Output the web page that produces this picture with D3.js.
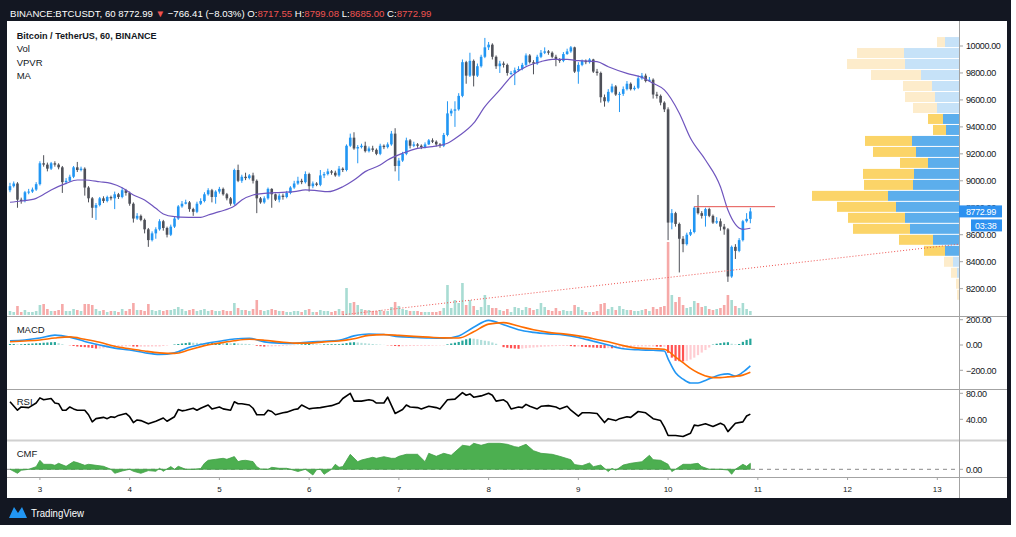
<!DOCTYPE html>
<html>
<head>
<meta charset="utf-8">
<script src="https://cdn.jsdelivr.net/npm/d3@7"></script>
<style>
  body { margin: 0; background: #fff; }
  svg { display: block; }
  text { font-family: "Liberation Sans", Arial, sans-serif; }
</style>
</head>
<body>
<div id="chart"></div>
<script>
// ---- data (hourly candles, 2nd 16:00 -> 10th 22:00) ----
const firstOpen = 8930
const closes = [
  8960,8980,8860,8850,8915,8920,8935,8975,9130,9120,
  9090,9130,9120,9100,8990,9000,9030,9100,9080,9090,
  8950,8870,8800,8820,8870,8850,8880,8870,8900,8880,
  8930,8910,8830,8720,8740,8710,8640,8560,8610,8640,
  8700,8650,8600,8660,8720,8810,8830,8840,8790,8770,
  8830,8850,8900,8930,8880,8920,8940,8900,8870,8830,
  9080,9000,9030,9020,9040,9000,8870,8840,8870,8940,
  8900,8860,8890,8880,8910,8950,8980,9000,8990,9050,
  8960,8980,8970,9040,9050,9070,9060,9040,9090,9080,
  9260,9320,9240,9250,9260,9220,9240,9230,9200,9260,
  9250,9270,9350,9110,9150,9200,9300,9260,9270,9260,
  9250,9270,9300,9290,9270,9260,9340,9500,9520,9530,
  9630,9880,9780,9890,9780,9850,9920,9990,10010,9920,
  9850,9870,9860,9800,9800,9820,9830,9860,9930,9880,
  9870,9920,9950,9960,9950,9920,9900,9890,9940,9960,
  9990,9810,9860,9890,9880,9900,9810,9800,9620,9590,
  9660,9700,9640,9645,9680,9720,9680,9690,9760,9780,
  9740,9750,9640,9630,9580,9530,8690,8760,8680,8570,
  8530,8600,8620,8800,8760,8740,8790,8740,8690,8700,
  8660,8640,8290,8510,8480,8560,8700,8717.55,8772.99
]
const highs = [
  8985,8995,8990,8875,8925,8940,8950,8990,9145,9190,
  9135,9140,9145,9130,9110,9020,9045,9110,9140,9105,
  9100,8960,8880,8835,8880,8885,8890,8890,8920,8910,
  8950,8940,8920,8840,8760,8750,8720,8650,8625,8655,
  8715,8710,8660,8675,8735,8820,8850,8860,8850,8800,
  8845,8870,8915,8945,8940,8930,8955,8950,8910,8880,
  9090,9120,9045,9060,9050,9060,9010,8880,8885,8950,
  8945,8905,8905,8905,8925,8960,9000,9030,9015,9070,
  9060,8995,8990,9080,9065,9090,9080,9075,9110,9100,
  9270,9350,9360,9265,9275,9290,9255,9260,9240,9275,
  9270,9285,9370,9390,9170,9215,9320,9310,9290,9280,
  9270,9285,9310,9315,9300,9280,9355,9590,9535,9590,
  9650,9900,9890,9950,9900,9870,9935,10060,10030,10020,
  9930,9890,9885,9870,9815,9840,9850,9875,9945,9940,
  9895,9935,9970,9990,9970,9960,9935,9910,9955,9980,
  10000,9995,9880,9900,9900,9910,9905,9830,9810,9640,
  9680,9720,9710,9660,9700,9740,9730,9705,9780,9800,
  9795,9770,9760,9660,9640,9590,9545,8790,8770,8690,
  8590,8615,8640,8810,8895,8775,8800,8800,8750,8730,
  8720,8680,8650,8520,8530,8575,8710,8760,8799.08
]
const lows = [
  8915,8950,8800,8830,8840,8900,8910,8925,8965,9105,
  9070,9080,9105,9085,8910,8975,8990,9020,9065,9070,
  8890,8840,8725,8710,8810,8835,8840,8855,8790,8865,
  8870,8890,8815,8690,8710,8700,8610,8510,8550,8570,
  8630,8630,8580,8590,8650,8710,8800,8825,8770,8740,
  8760,8820,8840,8890,8840,8830,8905,8890,8855,8815,
  8820,8990,8985,9005,9010,8980,8760,8830,8830,8860,
  8800,8850,8840,8860,8870,8900,8940,8970,8975,8980,
  8920,8945,8960,8960,9020,9040,9045,9030,9030,9065,
  9070,9250,9230,9130,9240,9210,9210,9215,9190,9190,
  9235,9240,9260,9070,9000,9140,9190,9240,9250,9245,
  9235,9240,9265,9280,9255,9245,9250,9330,9480,9400,
  9520,9620,9720,9770,9700,9770,9840,9910,9970,9900,
  9830,9800,9840,9780,9785,9710,9810,9820,9850,9870,
  9790,9860,9910,9940,9935,9910,9850,9875,9880,9935,
  9950,9800,9720,9850,9865,9870,9800,9780,9580,9550,
  9580,9650,9630,9510,9630,9670,9670,9670,9680,9750,
  9730,9735,9610,9610,9560,9510,8560,8640,8660,8320,
  8470,8520,8590,8610,8750,8720,8660,8730,8680,8680,
  8630,8600,8250,8280,8420,8470,8550,8690,8685
]
const volumes = [
  400,300,900,300,500,300,300,400,1000,1100,
  600,400,400,500,1100,400,400,600,500,400,
  1100,1100,1000,600,400,500,300,400,400,300,
  600,400,600,1200,500,500,400,1100,500,400,
  500,400,500,500,600,800,600,400,500,600,
  400,500,600,400,500,400,400,500,400,400,
  1200,700,500,500,400,600,1500,500,400,500,
  600,500,400,400,300,300,400,400,300,500,
  600,300,300,500,400,400,300,400,600,400,
  2700,1200,1300,1000,600,500,500,400,400,500,
  400,400,800,1300,900,600,500,400,400,400,
  300,300,300,300,300,400,700,3000,700,1500,
  1200,3200,1000,1500,900,500,800,2000,1000,700,
  700,500,400,600,300,800,700,500,800,700,
  500,600,1200,800,500,400,700,400,500,400,
  400,1000,800,500,300,300,300,400,1100,1200,
  600,800,500,900,600,500,500,400,400,500,
  600,400,800,600,800,900,7300,2000,1300,1800,
  1000,700,800,1400,1200,800,900,600,500,600,
  700,1000,2000,1500,900,700,1200,600,400
]

// moving average, sampled [candle, price]
const maPoints = [
  [0,8841],[3,8850],[7,8870],[11,8932],[15,8981],[18,9006],[20,9006],[24,8993],[27,8981],
  [30,8949],[33,8895],[36,8858],[39,8796],[41,8754],[44,8734],[48,8729],[51,8728],[53,8746],
  [56,8771],[60,8813],[62,8858],[65,8895],[68,8907],[71,8912],[76,8919],[79,8932],[82,8927],
  [85,8919],[89,8956],[92,9006],[95,9068],[99,9117],[101,9154],[105,9204],[109,9241],[113,9253],
  [117,9278],[120,9332],[124,9427],[127,9550],[131,9674],[134,9772],[138,9846],[142,9884],
  [145,9901],[149,9901],[152,9891],[157,9884],[160,9846],[165,9797],[169,9768],[172,9723],
  [175,9674],[179,9501],[182,9315],[186,9154],[190,8956],[192,8783],[196,8640],[198,8648]
]

// volume profile rows, top (10070) to bottom, step 81.5
const vpvrTop = 10070
const vpvrStep = 81.5
const vpvrUp =   [14,55,54,38,27,24,22,16,13,47,43,31,45,46,71,63,54,49,26,14,6,2,0,0]
const vpvrDown = [8,47,58,50,29,30,24,15,13,47,43,28,51,49,76,59,57,57,34,21,9,6,3,2]
const vpvrValueArea = [7, 19]

// MACD [candle, macd, signal]
const macdRows = [
  [0,34,26],[4,40,32],[8,55,40],[12,78,55],[16,62,64],[20,28,45],[24,0,22],[28,-25,-10],
  [32,-40,-30],[36,-61,-48],[40,-74,-62],[44,-62,-66],[48,-18,-38],[52,10,-5],[56,30,15],
  [60,48,34],[64,53,45],[68,25,38],[72,15,25],[76,13,15],[80,24,15],[84,30,25],[88,38,32],
  [92,72,50],[96,87,76],[100,83,82],[104,66,76],[108,60,68],[112,55,62],[116,53,56],
  [120,72,55],[124,140,105],[128,195,165],[132,160,177],[136,120,150],[140,100,120],
  [144,88,100],[148,80,88],[152,60,72],[156,30,50],[160,0,25],[164,-30,-5],[168,-38,-25],
  [172,-42,-30],[175,-47,-33],[176,-110,-48],[178,-220,-95],[180,-270,-140],[182,-300,-185],
  [184,-300,-220],[186,-280,-245],[188,-255,-258],[190,-235,-258],[192,-228,-252],
  [194,-245,-248],[196,-215,-238],[198,-165,-215]
]
const macdHist = [
  8,8,6,6,8,10,12,14,15,18,
  20,22,23,15,6,0,-2,-8,-12,-15,
  -17,-20,-24,-28,-28,-26,-22,-18,-15,-13,
  -12,-11,-10,-12,-13,-13,-13,-13,-12,-12,
  -12,-8,-4,0,4,8,12,16,20,18,
  17,16,15,15,15,15,15,14,14,13,
  14,12,10,9,8,2,-6,-10,-13,-12,
  -11,-10,-10,-7,-5,-3,-2,2,5,7,
  9,7,6,5,5,5,6,6,6,10,
  15,20,22,20,17,14,11,8,5,3,
  1,-2,-4,-8,-10,-10,-9,-8,-8,-7,
  -7,-7,-7,-5,-4,-3,-3,5,12,18,
  24,35,45,52,50,46,40,34,30,20,
  10,0,-17,-22,-26,-28,-30,-28,-25,-22,
  -20,-18,-15,-13,-12,-10,-9,-8,-8,-8,
  -9,-12,-12,-14,-16,-18,-20,-22,-24,-25,
  -25,-26,-25,-25,-25,-20,-16,-13,-13,-12,
  -12,-12,-12,-13,-14,-14,-62,-100,-125,-128,
  -130,-125,-115,-100,-80,-60,-40,-20,3,10,
  15,20,22,10,5,8,25,40,50
]

// RSI [candle, value]
const rsiPoints = [
  [0,67],[2,54],[3,59],[5,58],[7,65],[8,73],[9,70],[11,72],[12,65],[13,64],[14,54],[15,54],
  [16,59],[17,56],[18,54],[20,54],[21,47],[22,36],[23,41],[25,43],[26,41],[27,44],[28,43],
  [29,46],[31,49],[32,44],[33,35],[34,39],[35,38],[37,33],[38,35],[39,37],[41,42],[42,37],
  [44,44],[45,55],[46,53],[47,54],[49,57],[50,54],[51,57],[53,62],[54,56],[56,59],[57,56],
  [59,54],[60,67],[61,64],[62,64],[64,62],[65,57],[66,47],[68,47],[69,54],[70,52],[71,47],
  [73,50],[74,51],[76,55],[77,56],[78,62],[80,56],[81,57],[83,58],[85,60],[86,61],[88,65],
  [89,72],[91,80],[92,68],[94,68],[96,70],[97,69],[98,65],[100,65],[101,74],[103,49],
  [105,55],[106,62],[107,59],[109,58],[110,56],[112,60],[114,58],[115,56],[117,70],[119,71],
  [121,81],[122,77],[123,79],[124,74],[126,76],[128,80],[129,77],[130,68],[132,70],[133,66],
  [134,56],[136,59],[137,58],[138,63],[139,60],[141,56],[142,60],[144,61],[146,59],[147,56],
  [149,60],[150,54],[152,45],[153,50],[155,50],[157,49],[159,35],[160,41],[162,38],[163,41],
  [165,44],[166,43],[168,52],[170,50],[172,41],[174,38],[175,28],[176,15],[178,15],[180,13.5],
  [182,18.5],[183,31],[184,30],[186,33],[188,29],[190,34],[191,31],[192,21],[194,34],
  [196,36],[197,45],[198,48]
]

// Chaikin money flow [candle, value]
const cmfPoints = [
  [0,0],[2,-0.04],[3,-0.01],[5,0],[7,0.026],[8,0.09],[9,0.05],[11,0.05],[12,0.04],[13,0.06],
  [15,0.03],[17,0.077],[18,0.067],[20,0.04],[21,0.05],[23,0.04],[25,0.03],[27,0],[28,-0.04],
  [30,-0.017],[32,0],[33,-0.02],[35,-0.04],[37,-0.013],[39,-0.02],[40,0.01],[41,-0.02],
  [43,0.027],[44,0],[45,0.03],[47,0],[49,0],[51,0.007],[52,0.06],[53,0.09],[55,0.10],
  [57,0.11],[58,0.10],[60,0.127],[61,0.077],[62,0.087],[63,0.09],[65,0.077],[66,0.026],
  [67,0.003],[69,0],[70,0.02],[72,0.01],[74,0.01],[75,0],[77,-0.022],[79,0],[81,-0.057],
  [82,-0.004],[83,0],[84,-0.05],[86,0],[87,0.05],[88,0.02],[89,0.027],[91,0.15],[93,0.076],
  [94,0.093],[97,0.12],[98,0.11],[100,0.126],[102,0.11],[103,0.11],[104,0.13],[106,0.15],
  [109,0.15],[111,0.076],[112,0.16],[114,0.13],[116,0.16],[118,0.14],[121,0.24],[123,0.23],
  [124,0.26],[126,0.24],[128,0.26],[131,0.26],[133,0.25],[135,0.226],[136,0.22],[138,0.25],
  [140,0.186],[142,0.16],[145,0.15],[147,0.13],[150,0.096],[151,0.047],[153,0.036],
  [155,0.063],[156,0.026],[158,0.043],[160,-0.023],[161,0.01],[162,-0.01],[164,0.043],
  [166,0.06],[169,0.076],[171,0.14],[172,0.096],[174,0.09],[176,0.05],[177,-0.023],[178,0],
  [180,0.05],[182,0.05],[184,0.06],[185,0.027],[187,0],[190,0],[192,-0.007],[193,-0.05],
  [194,0],[196,0.05],[197,0.03],[198,0.06]
]

// drawings on the chart
const trendLine = [[89, 8006], [253.8, 8530]]
const levelLine = { from: 183, to: 204.6, price: 8808 }

// axis labels
const priceTicks = [10000, 9800, 9600, 9400, 9200, 9000, 8800, 8600, 8400, 8200]
const macdTicks = [200, 0, -200]
const rsiTicks = [80, 40]
const dayTicks = [3, 4, 5, 6, 7, 8, 9, 10, 11, 12, 13]
const firstDayIndex = 8 // candle index of day 3, 00:00

// header quote line
const headerParts = [
  ['BINANCE:BTCUSDT, 60 ', '#fff'], ['8772.99 ', '#fff'], ['\u25BC ', '#ef5350'],
  ['\u2212766.41 (\u22128.03%) ', '#fff'],
  ['O:', '#fff'], ['8717.55 ', '#ef5350'], ['H:', '#fff'], ['8799.08 ', '#ef5350'],
  ['L:', '#fff'], ['8685.00 ', '#ef5350'], ['C:', '#fff'], ['8772.99', '#ef5350']
]

// ---- drawing ----
const W = 1016, H = 537
const plotL = 7, plotR = 959, axisR = 1007

const svg = d3.select('#chart').append('svg').attr('width', W).attr('height', H)

svg.append('rect').attr('x', 0).attr('y', 0).attr('width', 1011).attr('height', 525).attr('fill', '#131722')
svg.append('rect').attr('x', plotL).attr('y', 21).attr('width', axisR - plotL).attr('height', 477).attr('fill', '#fff')

const x = d3.scaleLinear().domain([-0.8, 253.8]).range([plotL, plotR])
const y = d3.scaleLinear().domain([10000, 8200]).range([46, 288.64])
const yVol = d3.scaleLinear().domain([0, 10000]).range([315, 215])
const yMacd = d3.scaleLinear().domain([200, -200]).range([319.7, 370.3])
const yRsi = d3.scaleLinear().domain([80, 40]).range([393.3, 419.3])
const yCmf = d3.scaleLinear().domain([0, 0.26]).range([469.3, 443.3])

const defs = svg.append('defs')
const clip = (id, y0, y1) => {
  defs.append('clipPath').attr('id', id).append('rect')
    .attr('x', plotL).attr('y', y0).attr('width', plotR - plotL).attr('height', y1 - y0)
  return svg.append('g').attr('clip-path', `url(#${id})`)
}

const candles = closes.map((c, i) => ({
  i, c, o: i ? closes[i - 1] : firstOpen, h: highs[i], l: lows[i], v: volumes[i]
}))

const UP = '#2196f3', DOWN = '#4e5058'

// main pane
const main = clip('clipMain', 21, 316)

main.selectAll('rect.vol').data(candles).enter().append('rect')
  .attr('class', 'vol')
  .attr('x', d => x(d.i) - 1.3)
  .attr('width', 2.6)
  .attr('y', d => yVol(d.v))
  .attr('height', d => yVol(0) - yVol(d.v))
  .attr('fill', d => d.c >= d.o ? '#a8dcd3' : '#f6a9a8')

main.selectAll('line.wick').data(candles).enter().append('line')
  .attr('class', 'wick')
  .attr('x1', d => x(d.i)).attr('x2', d => x(d.i))
  .attr('y1', d => y(d.h)).attr('y2', d => y(d.l))
  .attr('stroke', d => d.c >= d.o ? UP : DOWN)
  .attr('stroke-width', 1)

main.selectAll('rect.body').data(candles).enter().append('rect')
  .attr('class', 'body')
  .attr('x', d => x(d.i) - 1.3)
  .attr('width', 2.6)
  .attr('y', d => y(Math.max(d.o, d.c)))
  .attr('height', d => Math.max(1, Math.abs(y(d.o) - y(d.c))))
  .attr('fill', d => d.c >= d.o ? UP : DOWN)

main.append('path')
  .datum(maPoints)
  .attr('d', d3.line().x(d => x(d[0])).y(d => y(d[1])).curve(d3.curveMonotoneX))
  .attr('fill', 'none')
  .attr('stroke', '#6f55be')
  .attr('stroke-width', 1.2)

// volume profile
const vpRows = vpvrUp.map((u, k) => ({
  k, up: u, down: vpvrDown[k],
  top: vpvrTop - k * vpvrStep,
  faded: k < vpvrValueArea[0] || k > vpvrValueArea[1]
}))
const vpX = d3.scaleLinear().domain([0, 150]).range([0, 150])
const vp = main.append('g')
vp.selectAll('rect.up').data(vpRows).enter().append('rect')
  .attr('x', d => plotR - vpX(d.up))
  .attr('width', d => vpX(d.up))
  .attr('y', d => y(d.top) + 0.5)
  .attr('height', d => y(d.top - vpvrStep) - y(d.top) - 1)
  .attr('fill', d => d.faded ? '#c6e2f8' : '#5caeec')
vp.selectAll('rect.down').data(vpRows).enter().append('rect')
  .attr('x', d => plotR - vpX(d.up) - vpX(d.down))
  .attr('width', d => vpX(d.down))
  .attr('y', d => y(d.top) + 0.5)
  .attr('height', d => y(d.top - vpvrStep) - y(d.top) - 1)
  .attr('fill', d => d.faded ? '#fdeccb' : '#fbd468')

main.append('line')
  .attr('x1', x(trendLine[0][0])).attr('y1', y(trendLine[0][1]))
  .attr('x2', x(trendLine[1][0])).attr('y2', y(trendLine[1][1]))
  .attr('stroke', '#ef5350').attr('stroke-width', 1).attr('stroke-dasharray', '1,2')

main.append('line')
  .attr('x1', x(levelLine.from)).attr('x2', x(levelLine.to))
  .attr('y1', y(levelLine.price)).attr('y2', y(levelLine.price))
  .attr('stroke', '#e5534f').attr('stroke-width', 1)

// MACD pane
const macdG = clip('clipMacd', 317, 389)
macdG.selectAll('rect').data(macdHist).enter().append('rect')
  .attr('x', (d, i) => x(i) - 1.1)
  .attr('width', 2.2)
  .attr('y', d => Math.min(yMacd(d), yMacd(0)))
  .attr('height', d => Math.abs(yMacd(d) - yMacd(0)))
  .attr('fill', (d, i) => {
    const prev = i ? macdHist[i - 1] : d
    if (d >= 0) return d >= prev ? '#26a69a' : '#b2dfdb'
    return d < prev ? '#ff5252' : '#ffcdd2'
  })
macdG.append('path').datum(macdRows)
  .attr('d', d3.line().x(d => x(d[0])).y(d => yMacd(d[1])).curve(d3.curveMonotoneX))
  .attr('fill', 'none').attr('stroke', '#2196f3').attr('stroke-width', 1.6)
macdG.append('path').datum(macdRows)
  .attr('d', d3.line().x(d => x(d[0])).y(d => yMacd(d[2])).curve(d3.curveMonotoneX))
  .attr('fill', 'none').attr('stroke', '#ff6d00').attr('stroke-width', 1.6)

// RSI pane
const rsiG = clip('clipRsi', 390, 439)
rsiG.append('path').datum(rsiPoints)
  .attr('d', d3.line().x(d => x(d[0])).y(d => yRsi(d[1])))
  .attr('fill', 'none').attr('stroke', '#000').attr('stroke-width', 1.6)
  .attr('stroke-linejoin', 'round')

// CMF pane
const cmfG = clip('clipCmf', 441, 477)
cmfG.append('line')
  .attr('x1', plotL).attr('x2', plotR).attr('y1', yCmf(0)).attr('y2', yCmf(0))
  .attr('stroke', '#8a8a8a').attr('stroke-dasharray', '4,4')
cmfG.append('path').datum(cmfPoints)
  .attr('d', d3.area().x(d => x(d[0])).y0(yCmf(0)).y1(d => yCmf(d[1])))
  .attr('fill', '#4caf50').attr('stroke', '#43a047').attr('stroke-width', 0.8)

// separators
const sep = (y0, color, w) => svg.append('line')
  .attr('x1', plotL).attr('x2', axisR).attr('y1', y0).attr('y2', y0)
  .attr('stroke', color).attr('stroke-width', w)
sep(316.5, '#a3a3a3', 1)
sep(389.5, '#a3a3a3', 1)
sep(440.5, '#d0d0d0', 2.2)
sep(477.5, '#a3a3a3', 1)
svg.append('line').attr('x1', plotR + 0.5).attr('x2', plotR + 0.5).attr('y1', 21).attr('y2', 498)
  .attr('stroke', '#a3a3a3')

// right axis labels
const axisText = (val, yy, label) => {
  svg.append('line').attr('x1', plotR).attr('x2', plotR + 4).attr('y1', yy).attr('y2', yy).attr('stroke', '#a3a3a3')
  svg.append('text').attr('x', 966).attr('y', yy + 3.3).text(label)
    .attr('font-size', 9).attr('letter-spacing', -0.4).attr('fill', '#131722')
}
const fmt = d3.format('.2f')
const minus = s => s.replace('-', '\u2212')
priceTicks.forEach(p => axisText(p, y(p), fmt(p)))
macdTicks.forEach(p => axisText(p, yMacd(p), minus(fmt(p))))
rsiTicks.forEach(p => axisText(p, yRsi(p), fmt(p)))
axisText(0, yCmf(0), '0.00')

// last price + countdown
const lastY = y(closes[closes.length - 1])
svg.append('rect').attr('x', plotR).attr('y', lastY - 6).attr('width', 43).attr('height', 12).attr('fill', '#2d91f0')
svg.append('text').attr('x', 966).attr('y', lastY + 3.3).text(fmt(closes[closes.length - 1]))
  .attr('font-size', 9).attr('letter-spacing', -0.4).attr('fill', '#fff')
svg.append('rect').attr('x', 971).attr('y', lastY + 8).attr('width', 31).attr('height', 12).attr('fill', '#2d91f0')
svg.append('text').attr('x', 975).attr('y', lastY + 17.3).text('03:38')
  .attr('font-size', 9).attr('letter-spacing', -0.2).attr('fill', '#fff')

// bottom time axis
dayTicks.forEach(d => {
  const xx = x(firstDayIndex + (d - 3) * 24)
  svg.append('line').attr('x1', xx).attr('x2', xx).attr('y1', 477).attr('y2', 480).attr('stroke', '#a3a3a3')
  svg.append('text').attr('x', xx).attr('y', 491.5).attr('text-anchor', 'middle')
    .attr('font-size', 8).attr('fill', '#131722').text(d)
})

// header bar: one text, coloured spans, sized so the line ends where the original does
const head = svg.append('text').attr('x', 10).attr('y', 16.5)
  .attr('font-size', 10).attr('xml:space', 'preserve')
headerParts.forEach(([t, c]) => head.append('tspan').attr('fill', c).text(t))
const natural = head.node().getComputedTextLength()
head.attr('font-size', 10 * 422 / natural)

// legend + pane titles
svg.append('text').attr('x', 16.7).attr('y', 39.3).text('Bitcoin / TetherUS, 60, BINANCE')
  .attr('font-size', 9.5).attr('font-weight', 'bold').attr('fill', '#131722')
  .attr('textLength', 140).attr('lengthAdjust', 'spacingAndGlyphs')
;[['Vol', 52.3], ['VPVR', 65.6], ['MA', 79]].forEach(([t, yy]) => {
  svg.append('text').attr('x', 16.7).attr('y', yy).text(t).attr('font-size', 9.5).attr('fill', '#131722')
})
;[['MACD', 332.7], ['RSI', 405], ['CMF', 457.3]].forEach(([t, yy]) => {
  svg.append('text').attr('x', 16.7).attr('y', yy).text(t).attr('font-size', 9.5).attr('fill', '#131722')
})

// TradingView mark
svg.append('path').attr('d', 'M9,518 L14,507 L18,513 L22,507 L27,518 Z').attr('fill', '#2196f3')
svg.append('text').attr('x', 31).attr('y', 516.5).text('TradingView')
  .attr('font-size', 10).attr('fill', '#fff')
  .attr('textLength', 53).attr('lengthAdjust', 'spacingAndGlyphs')
</script>
</body>
</html>
